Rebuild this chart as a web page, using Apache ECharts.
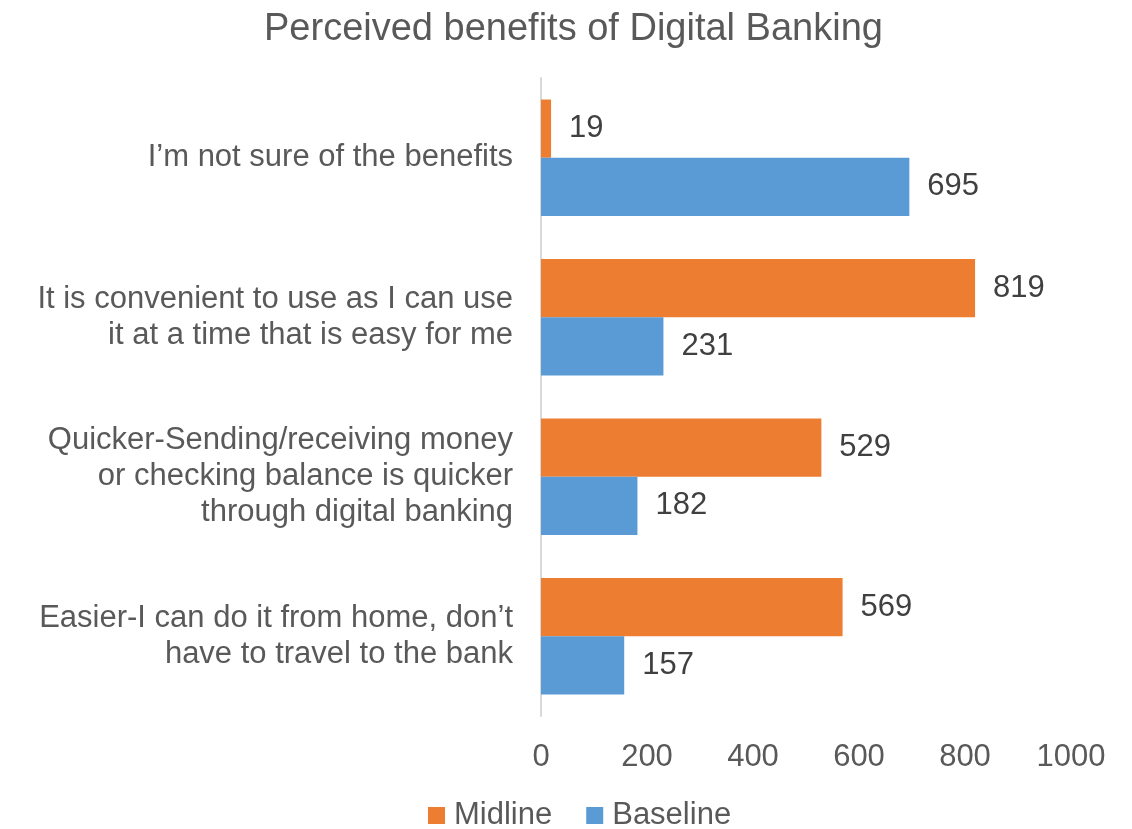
<!DOCTYPE html>
<html>
<head>
<meta charset="utf-8">
<script src="https://cdn.jsdelivr.net/npm/echarts@6/dist/echarts.min.js"></script>
<style>
  html, body { margin: 0; padding: 0; background: #ffffff; }
  #chart { width: 1132px; height: 829px; }
</style>
</head>
<body>
<div id="chart"></div>
<script>
// Survey answers, listed top to bottom
const categories = [
  "I\u2019m not sure of the benefits",
  "It is convenient to use as I can use\nit at a time that is easy for me",
  "Quicker-Sending/receiving money\nor checking balance is quicker\nthrough digital banking",
  "Easier-I can do it from home, don\u2019t\nhave to travel to the bank"
];
const midline = [19, 819, 529, 569];
const baseline = [695, 231, 182, 157];
const xTicks = [0, 200, 400, 600, 800, 1000];

const font = "Liberation Sans";
const chart = echarts.init(document.getElementById('chart'));

const labelStyle = {
  show: true,
  position: 'right',
  distance: 18,
  fontFamily: font,
  fontSize: 31,
  color: '#404040'
};

chart.setOption({
  animation: false,
  title: {
    text: 'Perceived benefits of Digital Banking',
    left: 259,
    top: 6,
    textStyle: { fontFamily: font, fontSize: 38, fontWeight: 'normal', color: '#595959' }
  },
  legend: {
    bottom: -7,
    left: 423,
    itemWidth: 17,
    itemHeight: 17,
    itemGap: 34,
    icon: 'rect',
    textStyle: { fontFamily: font, fontSize: 31, color: '#595959', padding: [0, 0, 0, 4] },
    data: ['Midline', 'Baseline']
  },
  grid: { left: 541, right: 61, top: 78, bottom: 113, containLabel: false },
  xAxis: {
    type: 'value',
    min: xTicks[0],
    max: xTicks[xTicks.length - 1],
    interval: 200,
    axisLine: { show: false },
    axisTick: { show: false },
    splitLine: { show: false },
    axisLabel: {
      fontFamily: font, fontSize: 31, color: '#595959', margin: 26,
      formatter: v => String(v)
    }
  },
  yAxis: {
    type: 'category',
    inverse: true,
    data: categories,
    axisLine: { show: true, lineStyle: { color: '#d9d9d9', width: 2 } },
    axisTick: { show: false },
    axisLabel: {
      fontFamily: font, fontSize: 31, color: '#595959',
      align: 'right', lineHeight: 36, margin: 28
    }
  },
  series: [
    {
      name: 'Midline', type: 'bar', data: midline,
      barGap: '0%', barCategoryGap: '27%',
      itemStyle: { color: '#ED7D31' },
      label: labelStyle
    },
    {
      name: 'Baseline', type: 'bar', data: baseline,
      barGap: '0%', barCategoryGap: '27%',
      itemStyle: { color: '#5B9BD5' },
      label: labelStyle
    }
  ]
});
</script>
</body>
</html>
